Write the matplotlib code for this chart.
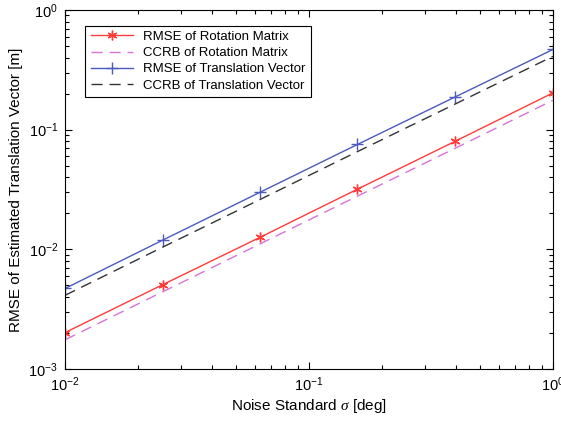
import matplotlib
matplotlib.use('Agg')
import matplotlib.pyplot as plt
import numpy as np

# data
sigma = [0.01, 0.0251, 0.0631, 0.158, 0.398, 1.0]
rmse_rot = [0.00201, 0.00505, 0.0126, 0.0318, 0.080, 0.203]
ccrb_rot = [0.00175, 0.0044, 0.0111, 0.0278, 0.070, 0.176]
rmse_trans = [0.00470, 0.0119, 0.0300, 0.0752, 0.188, 0.468]
ccrb_trans = [0.00412, 0.0104, 0.0261, 0.0655, 0.164, 0.410]

plt.rcParams['font.family'] = ['Liberation Sans', 'DejaVu Sans']
plt.rcParams['mathtext.fontset'] = 'custom'
plt.rcParams['mathtext.rm'] = 'Liberation Sans'
plt.rcParams['mathtext.it'] = 'Liberation Serif:italic'

fig = plt.figure(figsize=(5.61, 4.24), dpi=100)
ax = fig.add_axes([0.1159, 0.130, 0.8698, 0.8464])

ax.plot(sigma, rmse_rot, '-', color='#ff3b3b', lw=1.0,
        marker=(6, 2, 0), ms=7, mew=1.0, label='RMSE of Rotation Matrix')
ax.plot(sigma, ccrb_rot, '--', color='#d972d9', lw=1.0, dashes=(8, 5),
        label='CCRB of Rotation Matrix')
ax.plot(sigma, rmse_trans, '-', color='#4a5bbd', lw=1.0,
        marker='+', ms=8, mew=1.0, label='RMSE of Translation Vector')
ax.plot(sigma, ccrb_trans, '--', color='#333333', lw=1.0, dashes=(8, 5),
        label='CCRB of Translation Vector')

ax.set_xscale('log')
ax.set_yscale('log')
ax.set_xlim(1e-2, 1e0)
ax.set_ylim(1e-3, 1e0)

ax.tick_params(which='both', direction='in', top=True, right=True,
               labelsize=10.5, width=0.8, pad=5)
ax.tick_params(which='major', length=5)
ax.tick_params(which='minor', length=3)
for s in ax.spines.values():
    s.set_linewidth(0.8)

ax.set_xlabel(r'Noise Standard $\sigma$ [deg]', fontsize=11, labelpad=2)
ax.set_ylabel('RMSE of Estimated Translation Vector [m]', fontsize=11)

leg = ax.legend(loc='upper left', bbox_to_anchor=(0.028, 0.975), fontsize=9.5,
                fancybox=False, edgecolor='black', framealpha=1,
                handlelength=3.2, borderpad=0.4, labelspacing=0.3)
leg.get_frame().set_linewidth(0.8)

fig.savefig('out.png', dpi=100)
